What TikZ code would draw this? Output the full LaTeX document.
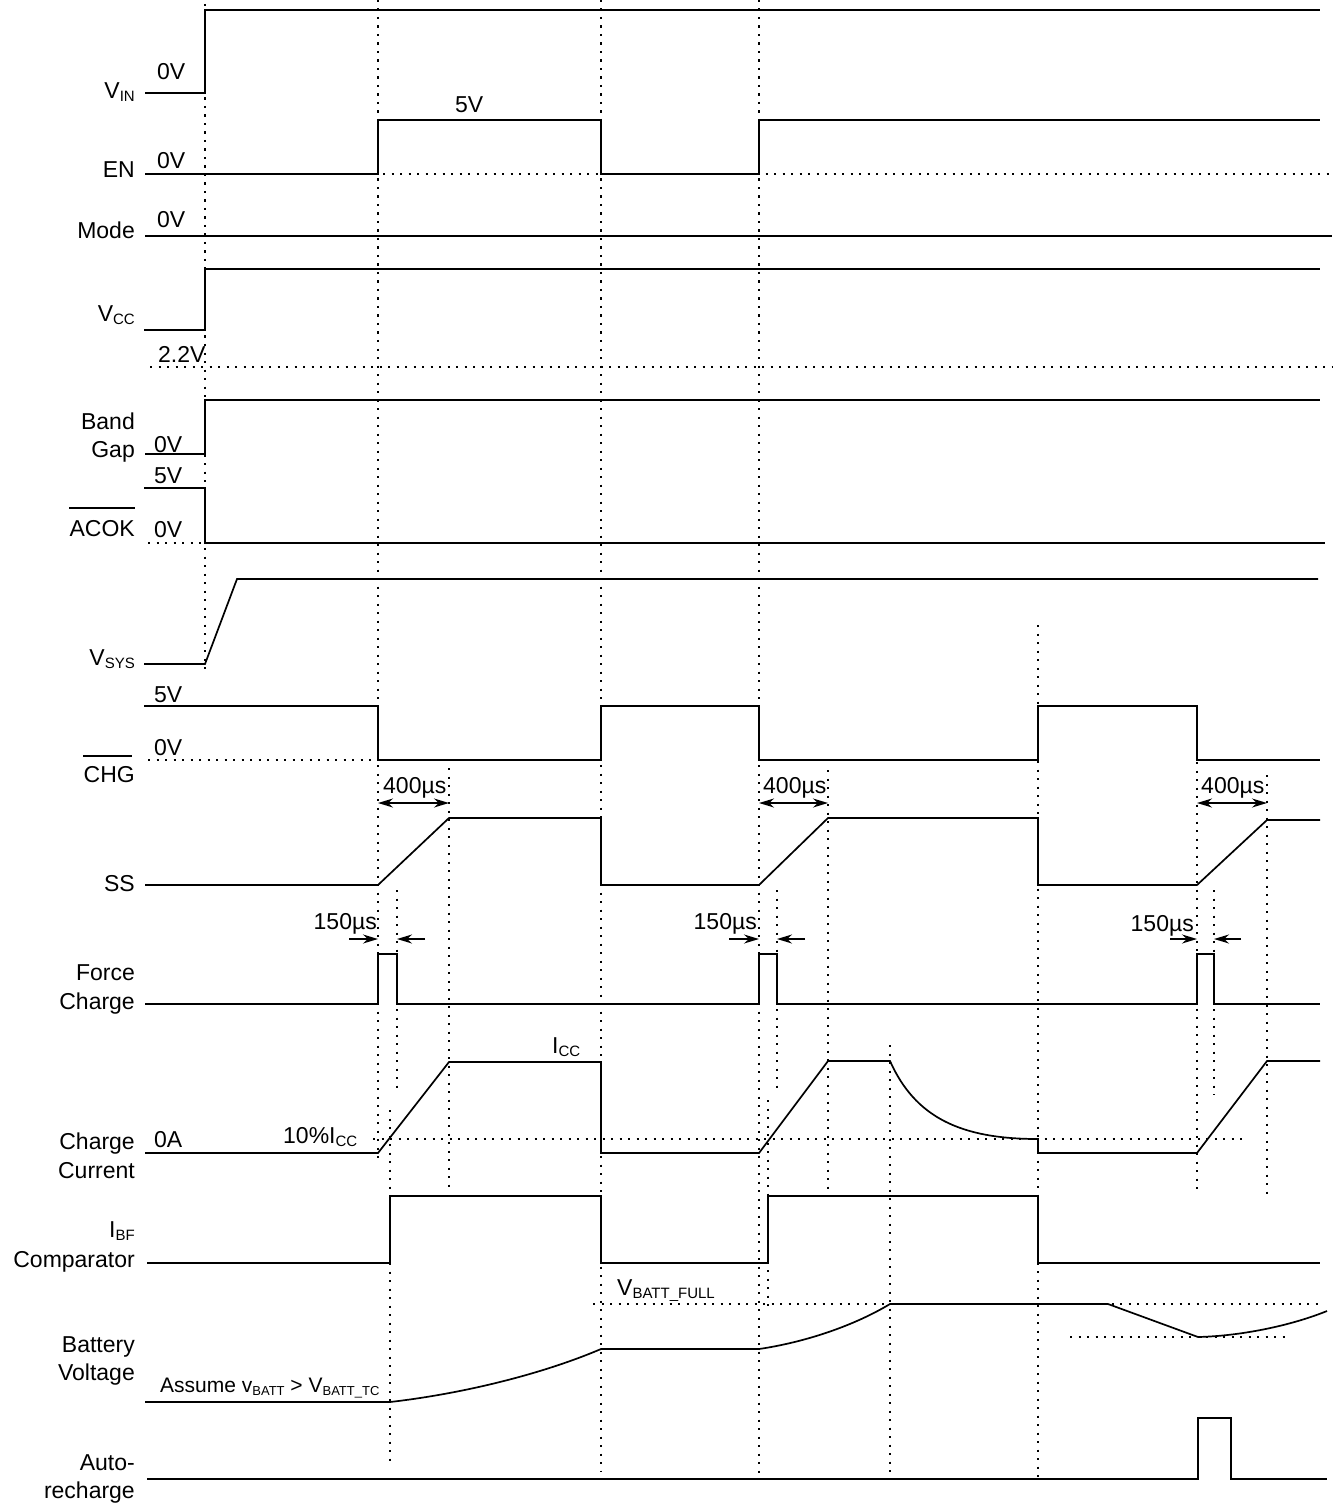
\documentclass[tikz,border=0pt]{standalone}
\usepackage{fontspec}
\setmainfont{Liberation Sans}
\usetikzlibrary{arrows.meta}
\newcommand\sbs[1]{\raisebox{-3pt}{\fontsize{15}{15}\selectfont #1}}
\newcommand\sbsm[1]{\raisebox{-3pt}{\fontsize{13}{13}\selectfont #1}}
\begin{document}
\begin{tikzpicture}[x=1pt,y=-1pt,
  sig/.style={line width=1.7pt, line join=miter},
  dotline/.style={line width=2.2pt, dash pattern=on 2.2pt off 6.3pt},
  lbl/.style={inner sep=0pt, font=\fontsize{23}{27}\selectfont},
  rl/.style={lbl, anchor=base east},
  ll/.style={lbl, anchor=base west},
  dim/.style={line width=1.6pt, -{Stealth[length=15pt,width=9pt]}},
  dimb/.style={line width=1.6pt, {Stealth[length=15pt,width=9pt]}-{Stealth[length=15pt,width=9pt]}}]
\useasboundingbox[fill=white] (0,0) rectangle (1332,1503);

% ---------- vertical dotted guides ----------
\draw[dotline] (205,4) -- (205,675);
\draw[dotline] (378,0) -- (378,1160);
\draw[dotline] (601,0) -- (601,1472);
\draw[dotline] (759,0) -- (759,1477);
\draw[dotline] (390,1110) -- (390,1465);
\draw[dotline] (397,890) -- (397,1090);
\draw[dotline] (449,768) -- (449,1190);
\draw[dotline] (768,1100) -- (768,1308);
\draw[dotline] (777,890) -- (777,1088);
\draw[dotline] (828,770) -- (828,1197);
\draw[dotline] (890,1045) -- (890,1473);
\draw[dotline] (1038,625) -- (1038,1477);
\draw[dotline] (1197,762) -- (1197,1190);
\draw[dotline] (1214,890) -- (1214,1095);
\draw[dotline] (1267,775) -- (1267,1197);

% ---------- horizontal dotted guides ----------
\draw[dotline] (145,174) -- (1332,174);
\draw[dotline] (145,236) -- (1332,236);
\draw[dotline] (150,367) -- (1332,367);
\draw[dotline] (148,543) -- (205,543);
\draw[dotline] (148,760) -- (378,760);
\draw[dotline] (373,1139) -- (1242,1139);
\draw[dotline] (593,1304) -- (1320,1304);
\draw[dotline] (1070,1337) -- (1286,1337);

% ---------- waveforms ----------
\draw[sig] (145,93) -- (205,93) -- (205,10) -- (1320,10);
\draw[sig] (145,174) -- (378,174) -- (378,120) -- (601,120) -- (601,174) -- (759,174) -- (759,120) -- (1320,120);
\draw[sig] (145,236) -- (1332,236);
\draw[sig] (144,330) -- (205,330) -- (205,269) -- (1320,269);
\draw[sig] (145,454) -- (205,454) -- (205,400) -- (1320,400);
\draw[sig] (144,488) -- (205,488) -- (205,543) -- (1325,543);
\draw[sig] (144,664) -- (205,664) -- (237,579) -- (1318,579);
\draw[sig] (144,706) -- (378,706) -- (378,760) -- (601,760) -- (601,706) -- (759,706) -- (759,760) -- (1038,760) -- (1038,706) -- (1197,706) -- (1197,760) -- (1320,760);
\draw[sig] (145,885) -- (378,885) -- (449,818) -- (601,818) -- (601,885) -- (759,885) -- (828,818) -- (1038,818) -- (1038,885) -- (1197,885) -- (1267,820) -- (1320,820);
\draw[sig] (145,1004) -- (378,1004) -- (378,954) -- (397,954) -- (397,1004) -- (759,1004) -- (759,954) -- (777,954) -- (777,1004) -- (1197,1004) -- (1197,954) -- (1214,954) -- (1214,1004) -- (1320,1004);
\draw[sig] (145,1153) -- (378,1153) -- (449,1062) -- (601,1062) -- (601,1153) -- (759,1153) -- (828,1061) -- (890,1061) .. controls (915,1117) and (960,1139) .. (1038,1139) -- (1038,1153) -- (1197,1153) -- (1267,1061) -- (1320,1061);
\draw[sig] (147,1263) -- (390,1263) -- (390,1196) -- (601,1196) -- (601,1263) -- (768,1263) -- (768,1196) -- (1038,1196) -- (1038,1263) -- (1320,1263);
\draw[sig] (145,1402) -- (390,1402) .. controls (460,1394) and (540,1375) .. (601,1349) -- (759,1349) .. controls (800,1343) and (850,1328) .. (890,1304) -- (1108,1304) -- (1198,1337) .. controls (1240,1336) and (1290,1326) .. (1327,1311);
\draw[sig] (147,1479) -- (1198,1479) -- (1198,1418) -- (1231,1418) -- (1231,1479) -- (1327,1479);

% ---------- timing dimensions ----------
\draw[dimb] (378,803) -- (449,803);
\draw[dimb] (759,803) -- (828,803);
\draw[dimb] (1197,803) -- (1267,803);
\draw[dim] (349,939) -- (378,939);
\draw[dim] (425,939) -- (397,939);
\draw[dim] (729,939) -- (759,939);
\draw[dim] (805,939) -- (777,939);
\draw[dim] (1170,939) -- (1197,939);
\draw[dim] (1241,939) -- (1214,939);

% ---------- overlines ----------
\draw[line width=1.4pt] (69,508) -- (135,508);
\draw[line width=1.4pt] (83,756) -- (132,756);

% ---------- signal names ----------
\node[rl] (nvin) at (135,99) {V\sbs{IN}};
\node[rl] (nen) at (135,178) {EN};
\node[rl] (nmode) at (135,239) {Mode};
\node[rl] (nvcc) at (135,321) {V\sbs{CC}};
\node[rl] (nband) at (135,429) {Band};
\node[rl] (ngap) at (135,457) {Gap};
\node[rl] (nacok) at (135,536) {ACOK};
\node[rl] (nvsys) at (135,665) {V\sbs{SYS}};
\node[rl] (nchg) at (135,782) {CHG};
\node[rl] (nss) at (135,891) {SS};
\node[rl] (nforce) at (135,980) {Force};
\node[rl] (nfcharge) at (135,1009) {Charge};
\node[rl] (nccharge) at (135,1149) {Charge};
\node[rl] (ncurrent) at (135,1178) {Current};
\node[rl] (nibf) at (135,1237) {I\sbs{BF}};
\node[rl] (ncomp) at (135,1267) {Comparator};
\node[rl] (nbatt) at (135,1352) {Battery};
\node[rl] (nvolt) at (135,1380) {Voltage};
\node[rl] (nauto) at (135,1470) {Auto-};
\node[rl] (nrech) at (135,1498) {recharge};

% ---------- level / value labels ----------
\node[ll] (l0vin) at (157,80) {0V};
\node[ll] (l0en) at (157,169) {0V};
\node[ll] (l5en) at (455,113) {5V};
\node[ll] (l0mode) at (157,228) {0V};
\node[ll] (l22) at (158,362) {2.2V};
\node[ll] (l0bg) at (154,452) {0V};
\node[ll] (l5acok) at (154,483) {5V};
\node[ll] (l0acok) at (154,537) {0V};
\node[ll] (l5chg) at (154,702) {5V};
\node[ll] (l0chg) at (154,755) {0V};
\node[ll] (t400a) at (383,793) {400µs};
\node[ll] (t400b) at (763,793) {400µs};
\node[ll] (t400c) at (1201,793) {400µs};
\node[rl] (t150a) at (377,929) {150µs};
\node[rl] (t150b) at (757,929) {150µs};
\node[rl] (t150c) at (1194,931) {150µs};
\node[ll] (l0a) at (154,1147) {0A};
\node[ll] (l10) at (283,1143) {10\%I\sbs{CC}};
\node[ll] (licc) at (552,1053) {I\sbs{CC}};
\node[ll] (lvbf) at (617,1295) {V\sbs{BATT\_FULL}};
\node[ll, font=\fontsize{21}{25}\selectfont] (lassume) at (160,1392) {Assume v\sbsm{BATT} > V\sbsm{BATT\_TC}};
\end{tikzpicture}
\end{document}
